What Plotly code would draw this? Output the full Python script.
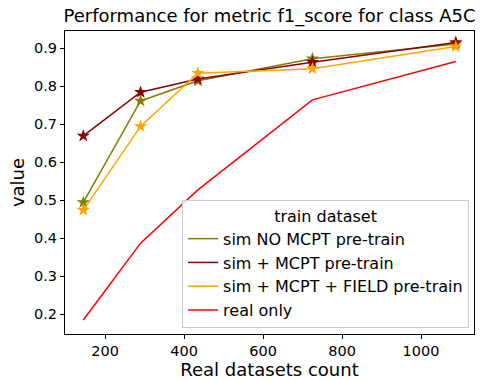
import plotly.graph_objects as go

counts = [145, 290, 435, 725, 1088]
series_names = ["sim NO MCPT pre-train", "sim + MCPT pre-train",
                "sim + MCPT + FIELD pre-train", "real only"]
sim_no_mcpt = [0.494, 0.761, 0.814, 0.872, 0.911]
sim_mcpt = [0.669, 0.784, 0.819, 0.863, 0.915]
sim_mcpt_field = [0.474, 0.694, 0.834, 0.846, 0.904]
real_only = [0.185, 0.387, 0.527, 0.764, 0.865]

colors = ["#808000", "#8B0000", "#FFA500", "#FF0000"]
values = [sim_no_mcpt, sim_mcpt, sim_mcpt_field, real_only]
has_markers = [True, True, True, False]

fig = go.Figure()
for name, vals, c, mk in zip(series_names, values, colors, has_markers):
    fig.add_trace(go.Scatter(x=counts, y=vals, mode="lines", name=name,
                             line=dict(color=c, width=1.5)))
    if mk:
        fig.add_trace(go.Scatter(x=counts, y=vals, mode="markers", showlegend=False,
                                 marker=dict(symbol="star", size=10, color=c,
                                             line=dict(width=0)),
                                 hoverinfo="skip"))

font = "DejaVu Sans"
fig.update_layout(
    width=481, height=381,
    margin=dict(l=65, r=7, t=31, b=47),
    paper_bgcolor="white", plot_bgcolor="white",
    font=dict(family=font, color="black", size=14.5),
    title=dict(text="Performance for metric f1_score for class A5C",
               x=(65 + 474) / 2 / 481, xanchor="center", y=1 - 15.5 / 381, yanchor="middle",
               font=dict(size=18, family=font, color="black")),
    xaxis=dict(range=[98.7, 1134], tickvals=[200, 400, 600, 800, 1000],
               showgrid=False, zeroline=False, showline=True, linecolor="black",
               linewidth=1, mirror=True, ticks="outside", ticklen=4, tickcolor="black",
               tickfont=dict(size=14.5), automargin=False,
               title=dict(text="Real datasets count", font=dict(size=18), standoff=0)),
    yaxis=dict(range=[0.148, 0.945], tickvals=[0.2, 0.3, 0.4, 0.5, 0.6, 0.7, 0.8, 0.9],
               tickformat=".1f",
               showgrid=False, zeroline=False, showline=True, linecolor="black",
               linewidth=1, mirror=True, ticks="outside", ticklen=4, tickcolor="black",
               tickfont=dict(size=14.5), automargin=False,
               title=dict(text="value", font=dict(size=18), standoff=4)),
    legend=dict(x=0.988, xanchor="right", y=0.02, yanchor="bottom",
                bgcolor="rgba(255,255,255,0.8)", bordercolor="#cccccc", borderwidth=1,
                font=dict(size=16),
                title=dict(text="train dataset", side="top center", font=dict(size=16)),
                itemwidth=30, tracegroupgap=0),
    showlegend=True,
)

fig.write_html("out.html", config={"displayModeBar": False},
               post_script="document.body.style.margin='0';document.body.style.overflow='hidden';")
